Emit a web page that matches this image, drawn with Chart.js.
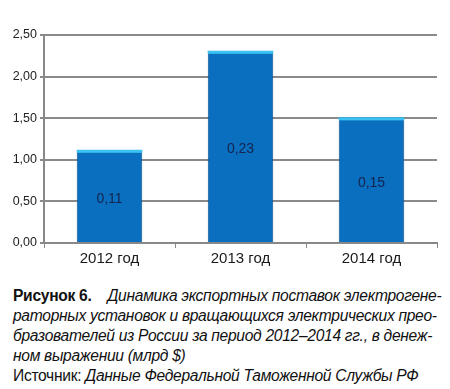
<!DOCTYPE html>
<html><head><meta charset="utf-8">
<script src="https://cdn.jsdelivr.net/npm/chart.js@4"></script>
<style>
html,body{margin:0;padding:0;background:#fff;width:450px;height:389px;overflow:hidden}
#wrap{position:relative;width:450px;height:280px}
#cap{position:absolute;left:13px;top:286px;width:437px;white-space:nowrap;font-family:"Liberation Sans",Arial,sans-serif;font-size:15.6px;line-height:20px;color:#111;letter-spacing:-0.3px}
#cap b{font-style:normal;font-weight:bold;margin-right:16px}
#cap i{font-style:italic}
</style></head><body>
<div id="wrap"><canvas id="c" width="450" height="280"></canvas></div>
<div id="cap"><b>Рисунок 6.</b><i>Динамика экспортных поставок электрогене-<br>раторных установок и вращающихся электрических прео-<br>бразователей из России за период 2012–2014 гг., в денеж-<br>ном выражении (млрд $)</i><br>Источник: <i>Данные Федеральной Таможенной Службы РФ</i></div>
<script>
const categories = ["2012 год", "2013 год", "2014 год"];
const values = [1.12, 2.31, 1.51];
const barLabels = ["0,11", "0,23", "0,15"];
const yTicks = [0, 0.5, 1, 1.5, 2, 2.5];

const barDeco = {
  id: 'barDeco',
  afterDatasetsDraw(chart) {
    const ctx = chart.ctx;
    const meta = chart.getDatasetMeta(0);
    meta.data.forEach((bar, i) => {
      const p = bar.getProps(['x','y','base','width'], true);
      ctx.save();
      ctx.fillStyle = '#3cc2f0';
      ctx.fillRect(p.x - p.width/2, p.y, p.width, 3);
      ctx.fillStyle = '#13244f';
      ctx.font = '14px "Liberation Sans", Arial, sans-serif';
      ctx.textAlign = 'center';
      ctx.textBaseline = 'middle';
      ctx.fillText(barLabels[i], p.x, (p.y + p.base)/2 + 3);
      ctx.restore();
    });
  }
};

new Chart(document.getElementById('c'), {
  type: 'bar',
  data: {
    labels: categories,
    datasets: [{
      data: values,
      backgroundColor: '#0a6fbe',
      borderColor: '#0a4f8e',
      borderWidth: {left:1, right:1, top:0, bottom:0},
      barPercentage: 0.5,
      categoryPercentage: 1.0
    }]
  },
  options: {
    responsive: false,
    animation: false,
    layout: {padding: {top: 35, right: 13, left: 0, bottom: 0}},
    plugins: {legend: {display: false}, tooltip: {enabled: false}},
    scales: {
      x: {
        grid: {display: true, drawOnChartArea: false, offset: true, tickLength: 5, color: '#888'},
        border: {color: '#888', width: 2},
        ticks: {color: '#1a1a1a', font: {family: '"Liberation Sans", Arial, sans-serif', size: 15}, padding: 2},
        afterFit(s) { s.height = 37; }
      },
      y: {
        min: 0, max: 2.5,
        afterBuildTicks(s) { s.ticks = yTicks.map(v => ({value: v})); },
        grid: {color: '#8a8a8a', lineWidth: 2, tickLength: 4},
        border: {color: '#888', width: 2},
        ticks: {
          color: '#222',
          font: {family: '"Liberation Sans", Arial, sans-serif', size: 12.5},
          padding: 3,
          callback: v => v.toFixed(2).replace('.', ',')
        },
        afterFit(s) { s.width = 44; }
      }
    }
  },
  plugins: [barDeco]
});
</script>
</body></html>
